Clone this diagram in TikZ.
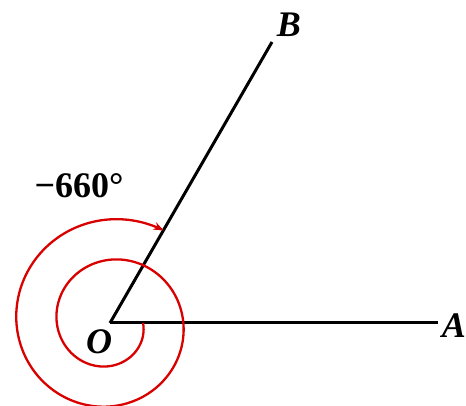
\documentclass[tikz,border=0pt]{standalone}
\usepackage{fontspec}
\setmainfont{Liberation Serif}
\usetikzlibrary{arrows.meta}
\begin{document}
\begin{tikzpicture}[x=1pt,y=1pt,
  ray/.style={line width=3pt,black},
  spiral/.style={line width=2.3pt,red!85!black,-{Stealth[length=10pt,width=8pt]}},
  lbl/.style={font=\fontsize{36}{36}\selectfont\bfseries\itshape,inner sep=0pt},
  anglbl/.style={font=\fontsize{36}{36}\selectfont\bfseries,inner sep=0pt}]
\useasboundingbox (0,0) rectangle (466,406);
\coordinate (O) at (110,83);
\coordinate (A) at (438,83);
\coordinate (B) at (272,364);
\draw[ray] (O) -- (A);
\draw[ray] (O) -- (B);
\draw[spiral] plot[domain=0:-660,samples=300,smooth]
  ({110+(33-74*\x/660)*cos(\x)},{83+(33-74*\x/660)*sin(\x)});
\node[lbl,anchor=east] (Al) at (466,80) {A};
\node[lbl] (Ol) at (99,64) {O};
\node[lbl] (Bl) at (289,381) {B};
\node[anglbl] (ang) at (79,220) {−660°};
\end{tikzpicture}
\end{document}
